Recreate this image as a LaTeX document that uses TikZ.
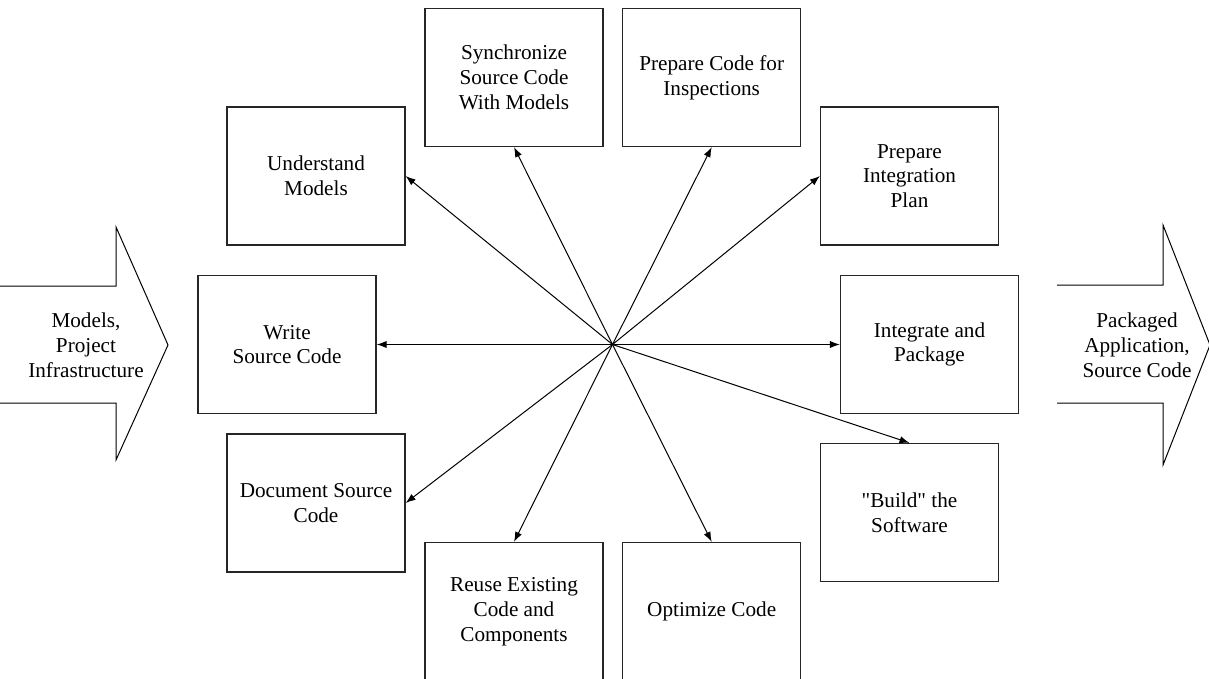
\documentclass[tikz,border=0pt]{standalone}
\usepackage{fontspec}
\setmainfont{Liberation Serif}[Ligatures=TeXOff]
\usetikzlibrary{arrows.meta}

\begin{document}
\begin{tikzpicture}[x=0.5pt,y=-0.5pt,
  task/.style={draw=black!85, line width=0.6pt, minimum width=89pt, minimum height=69pt,
    inner sep=0pt, align=center, font=\fontsize{10.6}{12.4}\selectfont},
  flow/.style={align=center, font=\fontsize{10.6}{12.4}\selectfont},
  spoke/.style={-{Latex[length=5pt,width=3.6pt]}, line width=0.5pt},
  bigarrow/.style={line width=0.5pt, line join=miter}]

\useasboundingbox (0,0) rectangle (1209,679);

\coordinate (hub) at (612.5,344.5);

% the tasks round the hub
\node [task] (sync)   at (514,77.5)   {Synchronize\\Source Code\\With Models};
\node [task] (inspect) at (711.7,77.5) {Prepare Code for\\Inspections};
\node [task] (under)  at (316,176)    {Understand\\Models};
\node [task] (plan)   at (909.5,176)  {Prepare\\Integration\\Plan};
\node [task] (write)  at (287,344.5)  {Write\\Source Code};
\node [task] (integ)  at (929.5,344.5) {Integrate and\\Package};
\node [task] (docu)   at (316,503)    {Document Source\\Code};
\node [task] (build)  at (909.5,512.5) {"Build" the\\Software};
\node [task] (reuse)  at (514,611.5)  {Reuse Existing\\Code and\\Components};
\node [task] (optim)  at (711.7,611.5) {Optimize Code};

\draw [spoke] (hub) -- (sync.south);
\draw [spoke] (hub) -- (inspect.south);
\draw [spoke] (hub) -- (under.east);
\draw [spoke] (hub) -- (plan.west);
\draw [spoke] (hub) -- (write.east);
\draw [spoke] (hub) -- (integ.west);
\draw [spoke] (hub) -- (docu.east);
\draw [spoke] (hub) -- (build.north);
\draw [spoke] (hub) -- (reuse.north);
\draw [spoke] (hub) -- (optim.north);

% input and output arrows
\draw [bigarrow] (0,286) -- (116,286) -- (116,227) -- (168,345) -- (116,460) -- (116,403) -- (0,403);
\node [flow] (inputs) at (86,345) {Models,\\Project\\Infrastructure};

\draw [bigarrow] (1057,285) -- (1163,285) -- (1163,225) -- (1210,345) -- (1163,465) -- (1163,403) -- (1057,403);
\node [flow] (outputs) at (1137,345) {Packaged\\Application,\\Source Code};

\end{tikzpicture}
\end{document}
